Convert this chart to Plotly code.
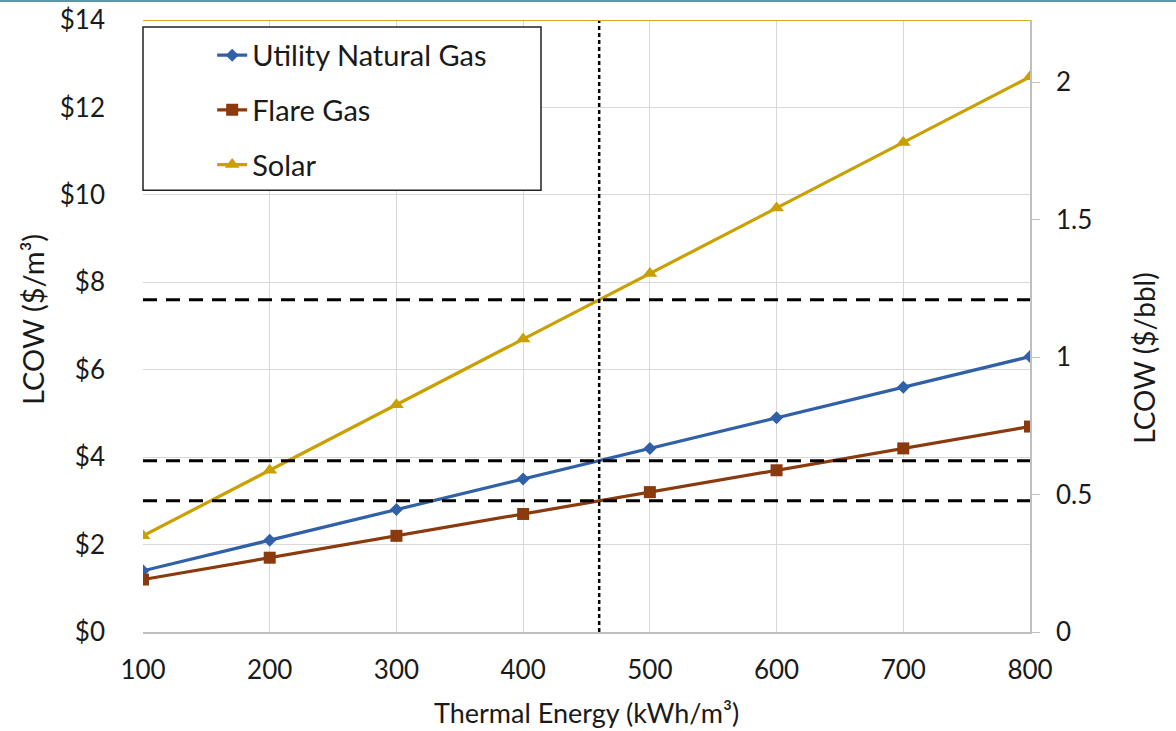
import numpy as np
import plotly.graph_objects as go

# ---- data ----
thermal_energy = [100, 200, 300, 400, 500, 600, 700, 800]
utility_gas = [1.4, 2.1, 2.8, 3.5, 4.2, 4.9, 5.6, 6.3]
flare_gas = [1.2, 1.7, 2.2, 2.7, 3.2, 3.7, 4.2, 4.7]
solar = [2.2, 3.7, 5.2, 6.7, 8.2, 9.7, 11.2, 12.7]
series_names = ["Utility Natural Gas", "Flare Gas", "Solar"]
left_ticks = [0, 2, 4, 6, 8, 10, 12, 14]
left_tick_labels = ["$0", "$2", "$4", "$6", "$8", "$10", "$12", "$14"]
right_ticks = [0, 0.5, 1, 1.5, 2]
right_tick_labels = ["0", "0.5", "1", "1.5", "2"]
bbl_per_m3 = 6.2898
reference_energy = 460

colors = ["#2F60A8", "#8B3A0E", "#C9A000"]
symbols = ["diamond", "square", "triangle-up"]
msizes = [10, 12, 13]
FONT = "Lato"
TXT = "#1a1a1a"

fig = go.Figure()
for i, (name, vals) in enumerate(zip(series_names, [utility_gas, flare_gas, solar])):
    fig.add_trace(go.Scatter(
        x=thermal_energy, y=vals, name=name, mode="lines+markers",
        line=dict(color=colors[i], width=3.2),
        marker=dict(symbol=symbols[i], size=msizes[i], color=colors[i]),
        legendgroup=name, yaxis="y",
    ))

# invisible trace to anchor secondary axis
fig.add_trace(go.Scatter(
    x=thermal_energy, y=[v / bbl_per_m3 for v in solar], yaxis="y2",
    mode="lines", line=dict(width=0), opacity=0, showlegend=False, hoverinfo="skip",
))

# reference lines at the chosen energy level
fig.add_shape(type="line", xref="x", yref="paper", x0=reference_energy, x1=reference_energy,
              y0=0, y1=1, line=dict(color="black", width=2.5, dash="4px,3px"))
for vals in [solar, utility_gas, flare_gas]:
    yv = float(np.interp(reference_energy, thermal_energy, vals))
    fig.add_shape(type="line", xref="paper", yref="y", x0=0, x1=1, y0=yv, y1=yv,
                  line=dict(color="black", width=3, dash="14px,9px"))

# gold top border line
fig.add_shape(type="line", xref="paper", yref="y", x0=0, x1=1, y0=14, y1=14,
              line=dict(color="#D4A72C", width=2))
# teal frame line at page top
fig.add_shape(type="line", xref="paper", yref="paper", x0=-0.2, x1=1.2, y0=1.031, y1=1.031,
              line=dict(color="#5C97A6", width=2))

# legend box
fig.add_shape(type="rect", xref="paper", yref="paper", x0=0.0, x1=0.4487, y0=0.722, y1=0.9886,
              line=dict(color="#222222", width=1.5), fillcolor="white", layer="above")

# axis titles
fig.add_annotation(text="Thermal Energy (kWh/m³)", xref="paper", yref="paper", x=0.5, y=-0.131,
                   showarrow=False, font=dict(family=FONT, size=27, color=TXT),
                   xanchor="center", yanchor="middle")
fig.add_annotation(text="LCOW ($/m³)", xref="paper", yref="paper", x=-0.124, y=0.51,
                   showarrow=False, textangle=-90, font=dict(family=FONT, size=29, color=TXT),
                   xanchor="center", yanchor="middle")
fig.add_annotation(text="LCOW ($/bbl)", xref="paper", yref="paper", x=1.1285, y=0.448,
                   showarrow=False, textangle=-90, font=dict(family=FONT, size=28, color=TXT),
                   xanchor="center", yanchor="middle")

fig.update_layout(
    width=1176, height=731,
    margin=dict(l=143, r=146, t=20, b=99, autoexpand=False),
    paper_bgcolor="white", plot_bgcolor="white",
    font=dict(family=FONT, color=TXT, size=26),
    showlegend=True,
    legend=dict(x=0.078, y=0.984, xanchor="left", yanchor="top",
                bgcolor="rgba(0,0,0,0)", borderwidth=0,
                font=dict(family=FONT, size=29, color=TXT),
                traceorder="grouped", tracegroupgap=14),
    xaxis=dict(range=[100, 800], tickvals=thermal_energy, showgrid=True, gridcolor="#D9D9D9",
               gridwidth=1, zeroline=False, showline=True, linecolor="#BFBFBF", linewidth=1.5,
               ticks="", tickfont=dict(size=26), ticklabelstandoff=14, automargin=False),
    yaxis=dict(range=[0, 14], tickvals=left_ticks, ticktext=left_tick_labels, showgrid=True,
               gridcolor="#D9D9D9", gridwidth=1, zeroline=False, showline=False, ticks="",
               tickfont=dict(size=26), ticklabelstandoff=37, automargin=False),
    yaxis2=dict(range=[0, 14 / bbl_per_m3], overlaying="y", side="right", tickvals=right_ticks,
                ticktext=right_tick_labels, showgrid=False, zeroline=False, showline=True,
                linecolor="#BFBFBF", linewidth=1.5, ticks="outside", ticklen=8, tickcolor="#BFBFBF",
                tickfont=dict(size=26), ticklabelstandoff=11, automargin=False),
)

fig.write_html("out.html", config={"displayModeBar": False},
               post_script="document.body.style.margin='0';document.body.style.overflow='hidden';")
